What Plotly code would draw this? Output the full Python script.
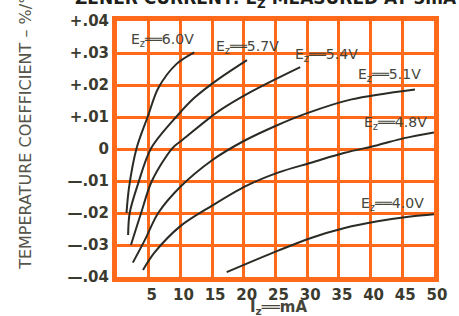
import plotly.graph_objects as go

# ---- data ----
zener_labels = ["6.0V", "5.7V", "5.4V", "5.1V", "4.8V", "4.0V"]

iz_60 = [1.5, 1.9, 3.1, 4.9, 6.5, 9.4, 12.2]
tc_60 = [-0.020, -0.012, 0.0003, 0.0104, 0.019, 0.0266, 0.0302]

iz_57 = [1.75, 2.0, 3.3, 5.4, 9.5, 12.2, 16.1, 20.5]
tc_57 = [-0.0269, -0.020, -0.011, 0.0003, 0.0104, 0.0160, 0.0220, 0.0278]

iz_54 = [2.2, 3.8, 5.5, 8.75, 10.3, 16.1, 21.25, 28.9]
tc_54 = [-0.030, -0.020, -0.010, 0.0003, 0.0028, 0.0119, 0.018, 0.0256]

iz_51 = [2.5, 4.4, 6.5, 10.0, 15.0, 20.0, 25.0, 30.0, 37.0, 47.0]
tc_51 = [-0.0355, -0.0284, -0.020, -0.0118, -0.0035, 0.0025, 0.0072, 0.0112, 0.0155, 0.0186]

iz_48 = [4.1, 5.9, 10.0, 15.0, 20.3, 25.5, 30.6, 35.9, 41.1, 45.3, 50.0]
tc_48 = [-0.0378, -0.0324, -0.0241, -0.0177, -0.0116, -0.0073, -0.0043, -0.0012, 0.0012, 0.0034, 0.0052]

iz_40 = [17.3, 25.5, 30.6, 35.9, 41.1, 46.3, 50.0]
tc_40 = [-0.0385, -0.0317, -0.0278, -0.0247, -0.0226, -0.0211, -0.0204]

x_tick_vals = [5, 10, 15, 20, 25, 30, 35, 40, 45, 50]
x_tick_text = ["5", "10", "15", "20", "25", "30", "35", "40", "45", "50"]
y_tick_vals = [0.04, 0.03, 0.02, 0.01, 0.0, -0.01, -0.02, -0.03, -0.04]
y_tick_text = ["+.04", "+.03", "+.02", "+.01", "0", "—.01", "—.02", "—.03", "—.04"]

series_x = [iz_60, iz_57, iz_54, iz_51, iz_48, iz_40]
series_y = [tc_60, tc_57, tc_54, tc_51, tc_48, tc_40]

# label placement (layout only)
label_pos = [(7.2, 0.0341), (20.6, 0.0318), (33.0, 0.0293), (43.0, 0.0232), (43.9, 0.0082), (43.4, -0.0171)]

GRID = "#ff6a1a"
INK = "#2b2b26"
TXT = "#45453a"

fig = go.Figure()
for xs, ys, name in zip(series_x, series_y, zener_labels):
    fig.add_trace(go.Scatter(
        x=xs, y=ys, mode="lines", name=name,
        line=dict(color=INK, width=2, shape="spline", smoothing=0.9),
        showlegend=False, hoverinfo="skip"))

for (lx, ly), name in zip(label_pos, zener_labels):
    fig.add_annotation(
        x=lx, y=ly, xref="x", yref="y", showarrow=False,
        xanchor="center", yanchor="middle",
        text="E<sub>z</sub>══" + name, bgcolor="rgba(0,0,0,0)",
        font=dict(family="DejaVu Sans", size=14, color=TXT))

# axis titles / cut-off heading
fig.add_annotation(
    x=-0.2875, y=0.586, xref="paper", yref="paper", showarrow=False,
    xanchor="center", yanchor="middle",
    text="TEMPERATURE COEFFICIENT – %/°C", textangle=-90,
    font=dict(family="DejaVu Sans", size=16, color="#55554a"))
fig.add_annotation(
    x=0.509, y=-0.118, xref="paper", yref="paper", showarrow=False,
    xanchor="center", yanchor="middle",
    text="I<sub>z</sub>══mA",
    font=dict(family="DejaVu Sans", size=15, color=TXT, weight="bold"))
fig.add_annotation(
    x=0.47, y=1.032, xref="paper", yref="paper", showarrow=False,
    xanchor="center", yanchor="bottom",
    text="ZENER CURRENT: E<sub>Z</sub> MEASURED AT 5mA",
    font=dict(family="DejaVu Sans", size=17, color="#1e1e1a", weight="bold"))

axis_common = dict(
    showgrid=True, gridcolor=GRID, gridwidth=3,
    showline=True, linecolor=GRID, linewidth=5, mirror=True,
    zeroline=False, ticks="", tickmode="array",
    tickfont=dict(family="DejaVu Sans", size=15, color="#3a3a2e", weight="bold"),
)

fig.update_xaxes(range=[0, 50], tickvals=x_tick_vals, ticktext=x_tick_text,
                 ticklabelshift=3, **axis_common)
fig.update_yaxes(range=[-0.04, 0.04], tickvals=y_tick_vals, ticktext=y_tick_text,
                 **axis_common)

fig.update_layout(
    width=459, height=316,
    margin=dict(l=117, r=22, t=18, b=36),
    paper_bgcolor="white", plot_bgcolor="white",
)

fig.write_html("out.html", config={"displayModeBar": False},
               post_script="document.body.style.margin='0';")
